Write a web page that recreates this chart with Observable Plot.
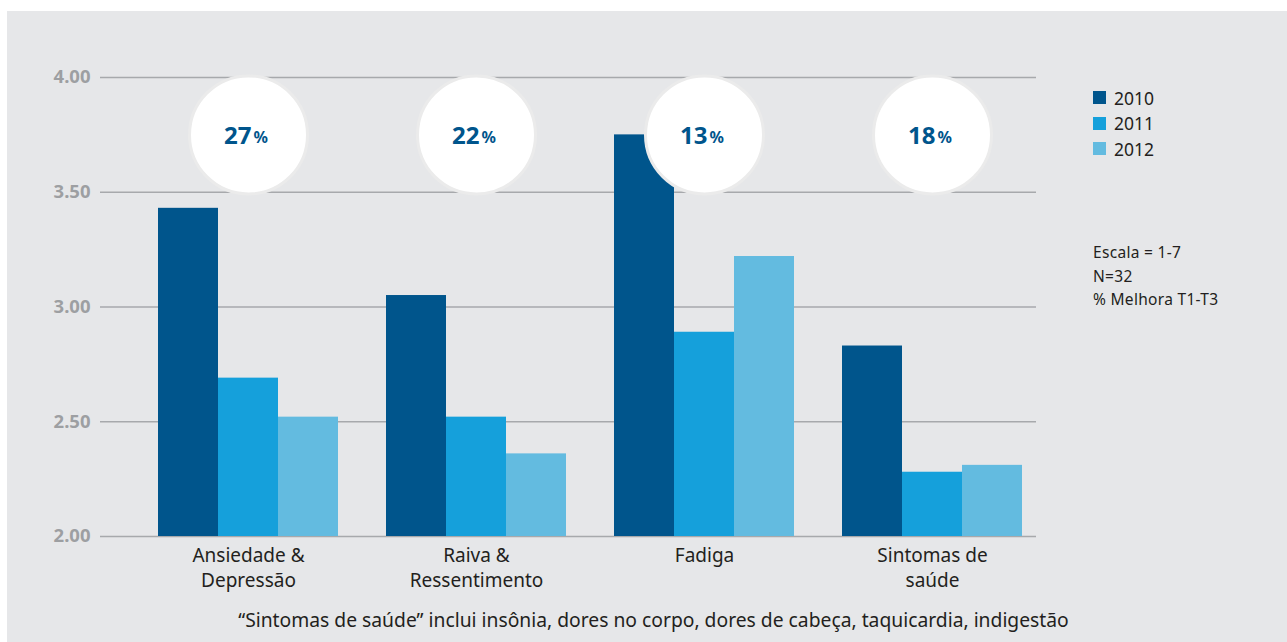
<!DOCTYPE html>
<html>
<head>
<meta charset="utf-8">
<script src="https://cdn.jsdelivr.net/npm/d3@7"></script>
<script src="https://cdn.jsdelivr.net/npm/@observablehq/plot@0.6"></script>
<style>
  html, body { margin: 0; padding: 0; background: #ffffff; }
  body { width: 1287px; height: 642px; position: relative; overflow: hidden; font-family: "Noto Sans", "Open Sans", sans-serif; }
  #panel { position: absolute; left: 7px; top: 11px; width: 1280px; height: 631px; background: #e6e7e9; }
  .layer { position: absolute; left: 0; top: 0; }
  #legend { position: absolute; left: 1093px; top: 85px; font-size: 17.5px; color: #231f20; }
  #legend .item { display: flex; align-items: center; height: 25.5px; }
  #legend .sw { width: 13px; height: 13px; margin-right: 8px; }
  #notes { position: absolute; left: 1093px; top: 241px; font-size: 15.5px; line-height: 23.5px; color: #231f20; letter-spacing: 0.3px; }
  #foot { position: absolute; left: 0; width: 1307px; top: 606px; text-align: center; font-size: 19.3px; color: #231f20; }
</style>
</head>
<body>
<div id="panel"></div>
<div id="grid" class="layer"></div>
<div id="chart" class="layer"></div>
<div id="legend"></div>
<div id="notes"></div>
<div id="foot"></div>
<script>
const categories = ["Ansiedade & Depressão", "Raiva & Ressentimento", "Fadiga", "Sintomas de saúde"];
const categoryLabels = ["Ansiedade &\nDepressão", "Raiva &\nRessentimento", "Fadiga", "Sintomas de\nsaúde"];
const years = ["2010", "2011", "2012"];
const values2010 = [3.43, 3.05, 3.75, 2.83];
const values2011 = [2.69, 2.52, 2.89, 2.28];
const values2012 = [2.52, 2.36, 3.22, 2.31];
const improvement = ["27", "22", "13", "18"];
const yTicks = [2.0, 2.5, 3.0, 3.5, 4.0];
const colors = ["#00558c", "#15a0db", "#63bbe0"];
const notes = ["Escala = 1-7", "N=32", "% Melhora T1-T3"];
const footnote = "\u201cSintomas de saúde\u201d inclui insônia, dores no corpo, dores de cabeça, taquicardia, indigestão";

const series = [values2010, values2011, values2012];
const rows = [];
categories.forEach((c, i) => years.forEach((y, j) => rows.push({cat: c, year: y, value: series[j][i]})));
const annot = categories.map((c, i) => ({cat: c, pct: improvement[i], label: categoryLabels[i]}));

const common = {
  width: 1287,
  height: 642,
  marginTop: 77,
  marginBottom: 106,
  marginLeft: 100,
  marginRight: 251,
  style: {background: "transparent", fontFamily: "'Noto Sans', 'Open Sans', sans-serif", overflow: "visible"}
};

// Layer 1: gridlines and y tick labels (spanning the whole frame)
const gridPlot = Plot.plot({
  ...common,
  x: {axis: null},
  y: {domain: [2, 4], axis: null},
  marks: [
    Plot.ruleY(yTicks, {y: d => d, stroke: "#a7a9ac", strokeWidth: 1.5}),
    Plot.text(yTicks, {y: d => d, text: d => d3.format(".2f")(d), frameAnchor: "left", textAnchor: "end", dx: -10, fill: "#9d9fa2", fontWeight: "bold", fontSize: 18.5})
  ]
});
document.getElementById("grid").appendChild(gridPlot);

// Layer 2: grouped bars, circles and category labels
const chart = Plot.plot({
  ...common,
  fx: {domain: categories, range: [134, 1046], paddingInner: 0.2, paddingOuter: 0.1, axis: null},
  x: {domain: years, padding: 0, axis: null},
  y: {domain: [2, 4], axis: null},
  color: {domain: years, range: colors},
  marks: [
    Plot.barY(rows, {fx: "cat", x: "year", y1: 2, y2: "value", fill: "year"}),
    Plot.dot(annot, {fx: "cat", y: () => 3.75, r: 59, fill: "white", stroke: "#ebebeb", strokeWidth: 3}),
    Plot.text(annot, {fx: "cat", y: () => 3.75, text: "pct", textAnchor: "end", dx: 3, dy: 1, fill: "#00558c", fontWeight: "bold", fontSize: 24}),
    Plot.text(annot, {fx: "cat", y: () => 3.75, text: () => "%", textAnchor: "start", dx: 5, dy: 3, fill: "#00558c", fontWeight: "bold", fontSize: 16}),
    Plot.text(annot, {fx: "cat", text: "label", frameAnchor: "bottom", lineAnchor: "top", dy: 8, lineHeight: 1.32, fill: "#231f20", fontSize: 19})
  ]
});
document.getElementById("chart").appendChild(chart);

const legend = document.getElementById("legend");
years.forEach((y, i) => {
  const item = document.createElement("div");
  item.className = "item";
  const sw = document.createElement("div");
  sw.className = "sw";
  sw.style.background = colors[i];
  const t = document.createElement("span");
  t.textContent = y;
  item.appendChild(sw); item.appendChild(t);
  legend.appendChild(item);
});
const notesEl = document.getElementById("notes");
notes.forEach(n => { const d = document.createElement("div"); d.textContent = n; notesEl.appendChild(d); });
document.getElementById("foot").textContent = footnote;
</script>
</body>
</html>
